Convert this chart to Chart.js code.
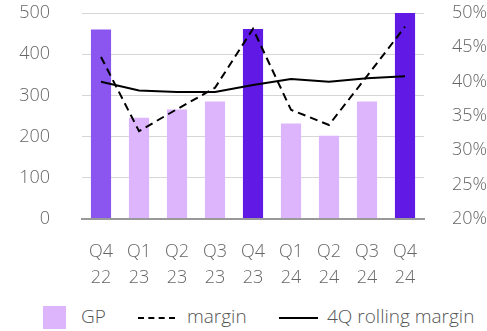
<!DOCTYPE html>
<html>
<head>
<meta charset="utf-8">
<script src="https://cdn.jsdelivr.net/npm/chart.js@4.4.1/dist/chart.umd.min.js"></script>
<style>
  html, body { margin: 0; padding: 0; background: #fff; overflow: hidden; width: 487px; height: 331px; }
  #wrap { position: absolute; left: 0; top: 0; width: 520px; height: 296px; }
  .lg { position: absolute; font-family: "Open Sans", sans-serif; font-weight: 300; font-size: 19px; color: #555; line-height: 20px; white-space: nowrap; }
  .box { position: absolute; left: 43px; top: 306px; width: 23px; height: 23px; background: #ddb5fd; }
  .dash { position: absolute; left: 138px; top: 317px; width: 37px; height: 0; border-top: 2px dashed #000; }
  .solid { position: absolute; left: 279px; top: 317px; width: 39px; height: 0; border-top: 2px solid #000; }
</style>
</head>
<body>
<div id="wrap"><canvas id="c" width="520" height="296" style="width:520px;height:296px"></canvas></div>
<div class="box"></div>
<div class="lg" style="left:81px; top:306px;">GP</div>
<div class="dash"></div>
<div class="lg" style="left:187px; top:306px;">margin</div>
<div class="solid"></div>
<div class="lg" style="left:327px; top:306px;">4Q rolling margin</div>
<script>
const categories = [["Q4","22"],["Q1","23"],["Q2","23"],["Q3","23"],["Q4","23"],["Q1","24"],["Q2","24"],["Q3","24"],["Q4","24"]];
const gpValues = [460, 246, 266, 285, 461, 232, 202, 285, 500];
const marginValues = [43.6, 32.8, 36.0, 39.1, 47.7, 35.9, 33.7, 40.8, 48.0];
const rollingMarginValues = [40.0, 38.7, 38.5, 38.5, 39.5, 40.4, 40.0, 40.5, 40.8];
const barColors = ["#8b55ef", "#ddb5fd", "#ddb5fd", "#ddb5fd", "#6119e6", "#ddb5fd", "#ddb5fd", "#ddb5fd", "#6119e6"];
const leftTicks = [0, 100, 200, 300, 400, 500];
const rightTicks = [20, 25, 30, 35, 40, 45, 50];

const tickFont = { family: "Open Sans", size: 18, weight: 300 };

new Chart(document.getElementById("c"), {
  data: {
    labels: categories,
    datasets: [
      { type: "line", label: "margin", data: marginValues, yAxisID: "y2", borderColor: "#000", borderWidth: 2, borderDash: [8, 5], pointRadius: 0, tension: 0, order: 1 },
      { type: "line", label: "4Q rolling margin", data: rollingMarginValues, yAxisID: "y2", borderColor: "#000", borderWidth: 2, pointRadius: 0, tension: 0, order: 2 },
      { type: "bar", label: "GP", data: gpValues, yAxisID: "y", backgroundColor: barColors, borderWidth: 0, categoryPercentage: 1, barPercentage: 0.53, order: 3 }
    ]
  },
  options: {
    responsive: false,
    animation: false,
    layout: { autoPadding: false, padding: { top: 13, left: 0, right: 0, bottom: 0 } },
    plugins: { legend: { display: false }, tooltip: { enabled: false } },
    scales: {
      x: {
        afterFit: s => { s.height = 77; },
        grid: { display: false, drawTicks: false },
        border: { display: true, color: "#999", width: 2, z: 1 },
        ticks: { font: { family: "Open Sans", size: 18, weight: 300, lineHeight: 1.45 }, color: "#666", padding: 20, maxRotation: 0, autoSkip: false }
      },
      y: {
        position: "left", min: 0, max: 500,
        afterBuildTicks: s => { s.ticks = leftTicks.map(v => ({ value: v })); },
        afterFit: s => { s.width = 82; },
        grid: { display: true, drawOnChartArea: true, color: "#d6d6d6", lineWidth: 1, drawTicks: true, tickLength: 32, tickColor: "rgba(0,0,0,0)" },
        border: { display: false },
        ticks: { font: tickFont, color: "#666", padding: 0 }
      },
      y2: {
        position: "right", min: 20, max: 50,
        afterBuildTicks: s => { s.ticks = rightTicks.map(v => ({ value: v })); },
        afterFit: s => { s.width = 96; },
        grid: { display: true, drawOnChartArea: false, drawTicks: true, tickLength: 28, tickColor: "rgba(0,0,0,0)" },
        border: { display: false },
        ticks: { font: tickFont, color: "#666", padding: 0, callback: v => v + "%" }
      }
    }
  }
});
</script>
</body>
</html>
